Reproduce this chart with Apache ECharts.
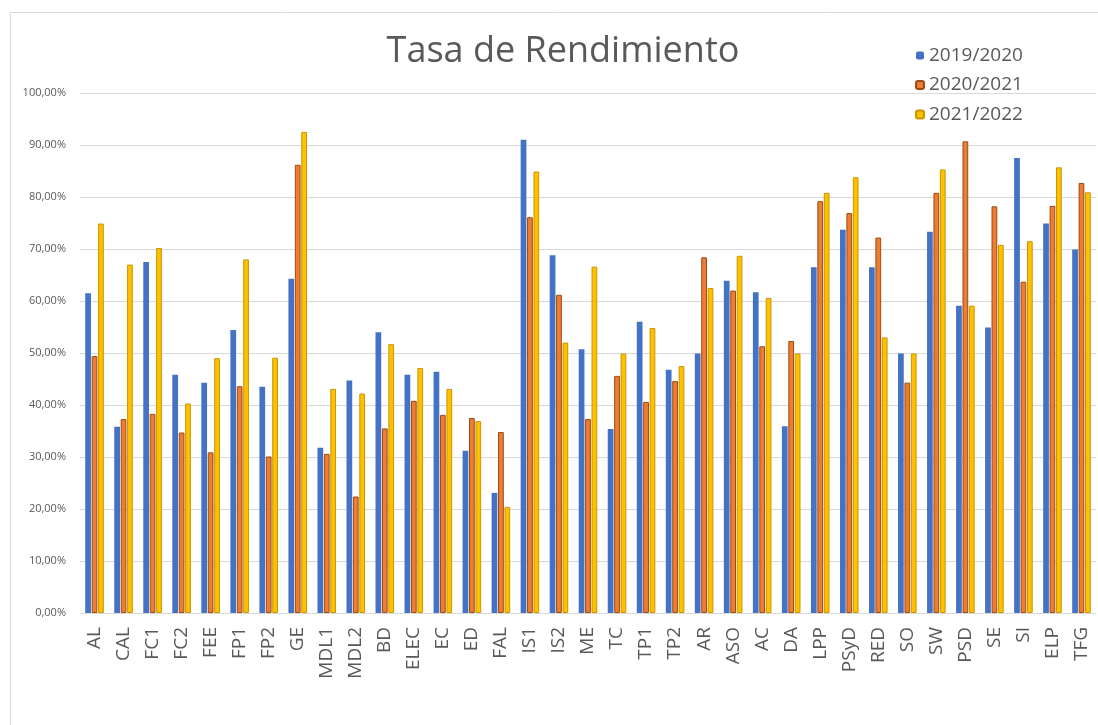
<!DOCTYPE html>
<html>
<head>
<meta charset="utf-8">
<script src="https://cdn.jsdelivr.net/npm/echarts@6/dist/echarts.min.js"></script>
<style>
  html, body { margin: 0; padding: 0; background: #fff; }
  #chart { width: 1098px; height: 725px; }
</style>
</head>
<body>
<div id="chart"></div>
<script>
// asignaturas
var asignaturas = ['AL', 'CAL', 'FC1', 'FC2', 'FEE', 'FP1', 'FP2', 'GE', 'MDL1', 'MDL2',
    'BD', 'ELEC', 'EC', 'ED', 'FAL', 'IS1', 'IS2', 'ME', 'TC', 'TP1', 'TP2', 'AR', 'ASO',
    'AC', 'DA', 'LPP', 'PSyD', 'RED', 'SO', 'SW', 'PSD', 'SE', 'SI', 'ELP', 'TFG'];

var cursos = ['2019/2020', '2020/2021', '2021/2022'];

// tasa de rendimiento (%) por curso
var curso1920 = [61.5, 35.8, 67.5, 45.8, 44.3, 54.4, 43.5, 64.3, 31.8, 44.7,
    54.0, 45.8, 46.4, 31.2, 23.1, 91.0, 68.8, 50.7, 35.4, 56.0, 46.8, 49.9, 63.9,
    61.7, 35.9, 66.5, 73.7, 66.5, 49.9, 73.3, 59.1, 54.9, 87.5, 74.9, 69.9];
var curso2021 = [49.4, 37.3, 38.3, 34.7, 30.9, 43.6, 30.1, 86.2, 30.6, 22.4,
    35.5, 40.8, 38.1, 37.5, 34.8, 76.1, 61.2, 37.3, 45.6, 40.6, 44.6, 68.4, 62.0,
    51.3, 52.3, 79.2, 76.9, 72.2, 44.3, 80.8, 90.7, 78.2, 63.7, 78.3, 82.7];
var curso2122 = [74.9, 67.0, 70.2, 40.3, 49.0, 68.0, 49.1, 92.5, 43.1, 42.2,
    51.7, 47.1, 43.1, 36.9, 20.4, 84.9, 52.0, 66.6, 49.9, 54.8, 47.5, 62.5, 68.7,
    60.6, 49.9, 80.8, 83.8, 53.0, 49.9, 85.3, 59.1, 70.8, 71.5, 85.7, 80.9];

var colores = ['#4472C4', '#ED7D31', '#FFC000'];
var bordes = ['#6f93d6', '#9c4a16', '#c89600'];

var chart = echarts.init(document.getElementById('chart'));

function serie(nombre, datos, i) {
    return {
        name: nombre,
        type: 'bar',
        data: datos,
        barGap: '12%',
        barCategoryGap: '36%',
        itemStyle: {
            color: colores[i],
            borderColor: bordes[i],
            borderWidth: i === 0 ? 0 : 1
        }
    };
}

var option = {
    animation: false,
    textStyle: { fontFamily: 'Open Sans' },
    title: {
        text: 'Tasa de Rendimiento',
        left: 558,
        textAlign: 'center',
        top: 29,
        textStyle: { fontSize: 36, fontWeight: 'normal', color: '#595959', fontFamily: 'Open Sans' }
    },
    legend: {
        orient: 'vertical',
        left: 910,
        top: 41,
        itemWidth: 8,
        itemHeight: 8,
        itemGap: 10.5,
        data: cursos,
        textStyle: { fontSize: 19, color: '#595959', fontFamily: 'Open Sans' }
    },
    graphic: [{
        type: 'polyline',
        shape: { points: [[10.5, 725], [10.5, 12.5], [1098, 12.5]] },
        style: { stroke: '#d9d9d9', lineWidth: 1, fill: null }
    }],
    grid: { left: 80, right: 2, top: 93, bottom: 112, containLabel: false },
    xAxis: {
        type: 'category',
        data: asignaturas,
        axisTick: { show: false },
        axisLine: { lineStyle: { color: '#d9d9d9' } },
        axisLabel: { rotate: 90, interval: 0, fontSize: 19, color: '#595959', margin: 14 }
    },
    yAxis: {
        type: 'value',
        min: 0,
        max: 100,
        interval: 10,
        axisLine: { show: false },
        axisTick: { show: false },
        splitLine: { lineStyle: { color: '#d9d9d9' } },
        axisLabel: {
            fontSize: 11,
            color: '#595959',
            margin: 14,
            formatter: function (v) { return v.toFixed(2).replace('.', ',') + '%'; }
        }
    },
    series: [
        serie(cursos[0], curso1920, 0),
        serie(cursos[1], curso2021, 1),
        serie(cursos[2], curso2122, 2)
    ]
};

chart.setOption(option);
</script>
</body>
</html>
